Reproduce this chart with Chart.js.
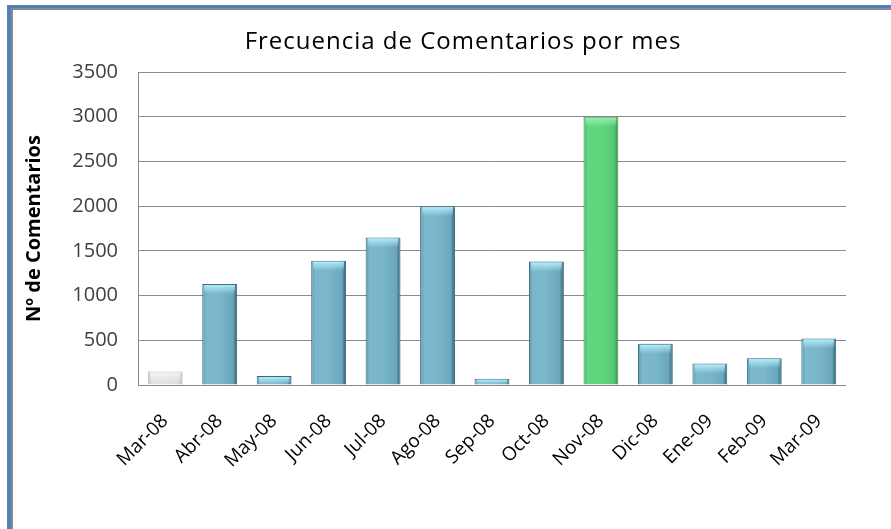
<!DOCTYPE html>
<html>
<head>
<meta charset="utf-8">
<script src="https://cdn.jsdelivr.net/npm/chart.js@4/dist/chart.umd.min.js"></script>
<style>
  html, body { margin: 0; padding: 0; background: #fff; }
  #wrap { position: relative; width: 891px; height: 529px; overflow: hidden; }
  #frame { position: absolute; left: 7px; top: 5px; right: -10px; bottom: -10px;
           border-top: 3px solid #4f81bd; border-left: 4px solid #4f81bd; }
  #frame2 { position: absolute; left: 0; top: 0; right: 0; bottom: 0;
            border-top: 2px solid #8a8a8a; border-left: 2px solid #8a8a8a; }
  #title { position: absolute; left: 0; width: 926px; top: 23px; text-align: center;
           font-family: "Open Sans", sans-serif; font-size: 24px; letter-spacing: 1px; color: #000; }
  canvas { position: absolute; left: 0; top: 0; }
</style>
</head>
<body>
<div id="wrap">
  <div id="frame"><div id="frame2"></div></div>
  <canvas id="chart" width="891" height="529"></canvas>
  <div id="title">Frecuencia de Comentarios por mes</div>
</div>
<script>
// Comentarios por mes
const months = ["Mar-08", "Abr-08", "May-08", "Jun-08", "Jul-08", "Ago-08", "Sep-08",
                "Oct-08", "Nov-08", "Dic-08", "Ene-09", "Feb-09", "Mar-09"];
const comments = [150, 1130, 100, 1390, 1650, 2000, 70, 1380, 3000, 460, 240, 300, 520];
const yTicks = [0, 500, 1000, 1500, 2000, 2500, 3000, 3500];

// bar colour kind per month
const kinds = ["gray", "blue", "blue", "blue", "blue", "blue", "blue",
               "blue", "green", "blue", "blue", "blue", "blue"];

const palettes = {
    blue: { stops: ["#5e9bb1", "#7bb8cc", "#7ab7cb", "#6aa6bc", "#2f5a6b"], border: "#3a6b7c", shine: "rgba(185,240,255," },
    green: { stops: ["#48b865", "#62d680", "#60d67f", "#56c873", "#2f8a45"], border: "#3a9a50", shine: "rgba(160,240,180," },
    gray: { stops: ["#c4c4c4", "#e2e2e2", "#e2e2e2", "#dcdcdc", "#b4b4b4"], border: "#c0c0c0", shine: "rgba(245,245,245," },
};

const BAR_PCT = 0.64;

function bevel(c) {
    const chart = c.chart;
    const pal = palettes[kinds[c.dataIndex]];
    if (!chart.chartArea || !chart.scales.x) return pal.stops[1];
    const x = chart.scales.x.getPixelForValue(c.dataIndex);
    const half = chart.scales.x.width / months.length * BAR_PCT / 2;
    const g = chart.ctx.createLinearGradient(x - half, 0, x + half, 0);
    const pos = [0, 0.12, 0.5, 0.88, 1];
    pal.stops.forEach((col, i) => g.addColorStop(pos[i], col));
    return g;
}

// light cap on top of each bar, placed from the bar elements
const topShine = {
    id: "topShine",
    afterDatasetsDraw(chart) {
        const ctx = chart.ctx;
        chart.getDatasetMeta(0).data.forEach((bar, i) => {
            const pal = palettes[kinds[i]];
            const h = Math.min(9, bar.base - bar.y - 1);
            if (h <= 0) return;
            const g = ctx.createLinearGradient(0, bar.y + 1, 0, bar.y + 1 + h);
            g.addColorStop(0, pal.shine + "0.9)");
            g.addColorStop(1, pal.shine + "0)");
            ctx.save();
            ctx.fillStyle = g;
            ctx.fillRect(bar.x - bar.width / 2 + 2, bar.y + 1, bar.width - 4, h);
            ctx.restore();
        });
    },
};

new Chart(document.getElementById("chart"), {
    type: "bar",
    data: {
        labels: months,
        datasets: [
            {
                data: comments,
                backgroundColor: bevel,
                borderColor: months.map((m, i) => palettes[kinds[i]].border),
                borderWidth: 1,
                barPercentage: BAR_PCT,
                categoryPercentage: 1,
            },
        ],
    },
    options: {
        responsive: false,
        animation: false,
        layout: {
            padding: { top: 72, right: 45, bottom: 0, left: 0 },
        },
        plugins: {
            legend: { display: false },
            tooltip: { enabled: false },
        },
        scales: {
            x: {
                grid: { display: false, drawTicks: false },
                border: { display: false },
                ticks: {
                    minRotation: 45,
                    maxRotation: 45,
                    padding: 25,
                    color: "#000",
                    font: { family: "Open Sans", size: 19 },
                },
                afterFit: (s) => { s.height = 144; },
            },
            y: {
                min: 0,
                max: 3500,
                afterBuildTicks: (s) => { s.ticks = yTicks.map((v) => ({ value: v })); },
                grid: { color: "#8a8a8a", lineWidth: 1, drawTicks: false },
                border: { display: true, color: "#8a8a8a", width: 1 },
                ticks: {
                    padding: 20,
                    color: "#404040",
                    font: { family: "Open Sans", size: 20 },
                    callback: (v) => String(v),
                },
                title: {
                    display: true,
                    text: "Nº de Comentarios",
                    color: "#000",
                    padding: { top: 22, bottom: 0 },
                    font: { family: "Open Sans", size: 20, weight: "bold" },
                },
                afterFit: (s) => { s.width = 138; },
            },
        },
    },
    plugins: [topShine],
});
</script>
</body>
</html>
